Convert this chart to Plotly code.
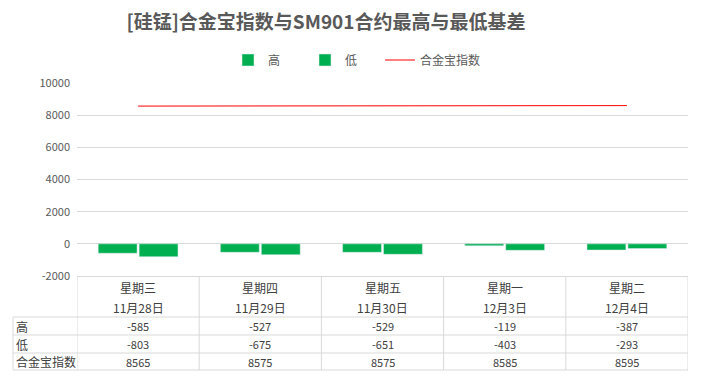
import plotly.graph_objects as go

weekdays = ["星期三", "星期四", "星期五", "星期一", "星期二"]
dates = ["11月28日", "11月29日", "11月30日", "12月3日", "12月4日"]
high = [-585, -527, -529, -119, -387]
low = [-803, -675, -651, -403, -293]
index_vals = [8565, 8575, 8575, 8585, 8595]
row_names = ["高", "低", "合金宝指数"]
y_ticks = [-2000, 0, 2000, 4000, 6000, 8000, 10000]

W, H = 701, 383
ML, MR, MT, MB = 77, 13, 83, 107
PH = H - MT - MB
PW = W - ML - MR
FONT = "Noto Sans CJK SC"
GRID = "#D9D9D9"
TXT = "#404040"


def py(p):
    return (H - MB - p) / PH


def px(p):
    return (p - ML) / PW


xs = list(range(len(weekdays)))

fig = go.Figure()
fig.add_trace(go.Bar(x=xs, y=high, name="高", marker_color="#00B050", legend="legend"))
fig.add_trace(go.Bar(x=xs, y=low, name="低", marker_color="#00B050", legend="legend"))
fig.add_trace(go.Scatter(x=xs, y=index_vals, name="合金宝指数", mode="lines",
                         line=dict(color="#FF0000", width=1), legend="legend2"))

shapes = []
ann = []
for i in range(len(xs) + 1):
    xv = i - 0.5
    shapes.append(dict(type="line", xref="x", yref="paper", x0=xv, x1=xv,
                       y0=py(276), y1=py(370), line=dict(color=GRID, width=1)))
for p in [317, 335, 353, 370]:
    shapes.append(dict(type="line", xref="paper", yref="paper", x0=px(13), x1=1,
                       y0=py(p), y1=py(p), line=dict(color=GRID, width=1)))
shapes.append(dict(type="line", xref="paper", yref="paper", x0=px(13), x1=px(13),
                   y0=py(317), y1=py(370), line=dict(color=GRID, width=1)))

for i in xs:
    ann.append(dict(x=i, y=py(287), xref="x", yref="paper", text=weekdays[i],
                    yanchor="middle", showarrow=False, font=dict(size=12, color=TXT)))
    ann.append(dict(x=i, y=py(307), xref="x", yref="paper", text=dates[i],
                    yanchor="middle", showarrow=False, font=dict(size=12, color=TXT)))
    for vals, p in [(high, 326), (low, 344), (index_vals, 361.5)]:
        ann.append(dict(x=i, y=py(p), xref="x", yref="paper", text=str(vals[i]),
                        yanchor="middle", showarrow=False, font=dict(size=11, color=TXT)))
for name, p in zip(row_names, [326, 344, 361.5]):
    ann.append(dict(x=px(14), y=py(p), xref="paper", yref="paper", text=name,
                    xanchor="left", yanchor="middle", showarrow=False,
                    font=dict(size=12, color=TXT)))

fig.update_layout(
    width=W, height=H,
    margin=dict(l=ML, r=MR, t=MT, b=MB),
    paper_bgcolor="white", plot_bgcolor="white",
    font=dict(family=FONT, color="#595959"),
    title=dict(text="<b>[硅锰]合金宝指数与SM901合约最高与最低基差</b>",
               x=326 / W, xanchor="center", y=1 - 22 / H, yanchor="middle",
               font=dict(size=19, color="#595959")),
    barmode="group", bargap=0.33, bargroupgap=0.05,
    showlegend=True,
    legend=dict(orientation="h", x=px(228), xanchor="left", y=py(60), yanchor="middle",
                font=dict(size=12, color="#595959"), entrywidth=32, traceorder="normal"),
    legend2=dict(orientation="h", x=px(380), xanchor="left", y=py(60), yanchor="middle",
                 font=dict(size=12, color="#595959")),
    xaxis=dict(range=[-0.5, len(xs) - 0.5], showticklabels=False, showgrid=False,
               zeroline=False, showline=True, linecolor=GRID, mirror=False, fixedrange=True),
    yaxis=dict(range=[-2000, 10000], tickvals=y_ticks, ticktext=[str(v) for v in y_ticks],
               showgrid=True, gridcolor=GRID,
               zeroline=True, zerolinecolor=GRID, zerolinewidth=1, showline=False,
               tickfont=dict(size=11, color="#595959"), ticklen=0, ticks="",
               ticklabelstandoff=6, fixedrange=True),
    shapes=shapes, annotations=ann,
)
fig.write_html("out.html")
